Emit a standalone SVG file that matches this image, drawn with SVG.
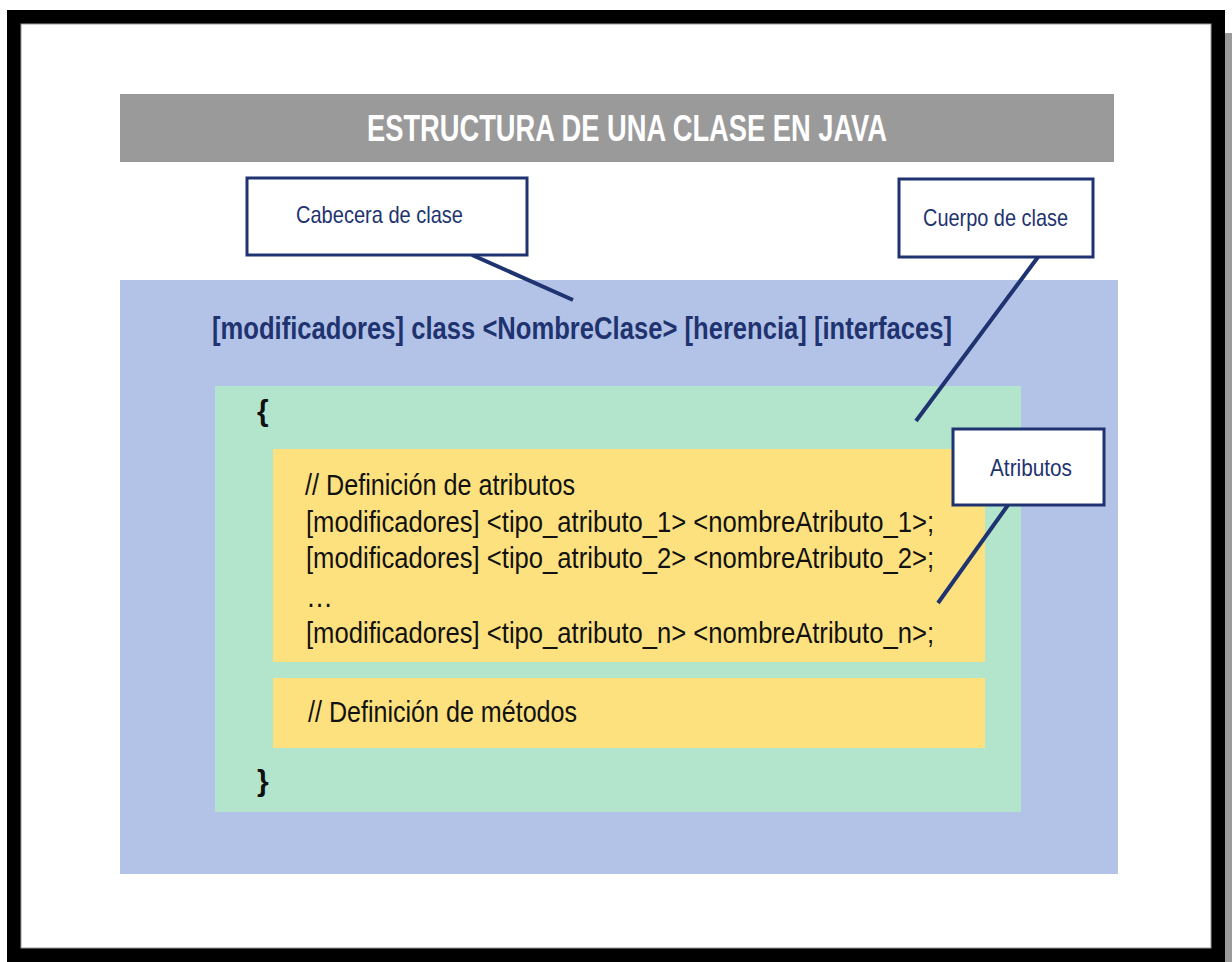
<svg xmlns="http://www.w3.org/2000/svg" width="1232" height="962" viewBox="0 0 1232 962">
<style>
.callout{fill:#ffffff;stroke:#1f3370;stroke-width:3}
.ctext{font-family:"Liberation Sans Narrow","Liberation Sans",Arial,sans-serif;font-size:24px;fill:#1f3370}
.code{font-family:"Liberation Sans Narrow","Liberation Sans",Arial,sans-serif;font-size:30px;fill:#111111}
.conn{stroke:#1f3370;stroke-width:4;fill:none;stroke-linecap:butt}
</style>
<rect x="0" y="0" width="1232" height="962" fill="#ffffff"/>
<rect x="1225" y="33" width="7" height="929" fill="#9a9a9a"/>
<g id="frame">
<rect x="7" y="10" width="1218" height="952" fill="#000000"/>
<rect x="21" y="24" width="1190" height="924" fill="#ffffff" stroke="#9a9a9a" stroke-width="1"/>
</g>
<g id="title">
<rect x="120" y="94" width="994" height="68" fill="#9b9a9b"/>
<text x="367" y="141" font-family="'Liberation Sans Narrow','Liberation Sans',Arial,sans-serif" font-size="36" font-weight="bold" fill="#ffffff" textLength="520" lengthAdjust="spacingAndGlyphs">ESTRUCTURA DE UNA CLASE EN JAVA</text>
</g>
<g id="class-area">
<rect x="120" y="280" width="998" height="594" fill="#b3c3e7"/>
<text x="212" y="339" font-family="'Liberation Sans Narrow','Liberation Sans',Arial,sans-serif" font-size="32" font-weight="bold" fill="#1f3370" textLength="740" lengthAdjust="spacingAndGlyphs">[modificadores] class &lt;NombreClase&gt; [herencia] [interfaces]</text>
</g>
<g id="body-area">
<rect x="215" y="386" width="806" height="426" fill="#b3e5cc"/>
<text x="257" y="421" font-family="'Liberation Sans Narrow','Liberation Sans',Arial,sans-serif" font-size="30" font-weight="bold" fill="#111111">{</text>
<text x="257" y="791" font-family="'Liberation Sans Narrow','Liberation Sans',Arial,sans-serif" font-size="30" font-weight="bold" fill="#111111">}</text>
</g>
<g id="attributes-block">
<rect x="273" y="449" width="712" height="213" fill="#fde17e"/>
<text class="code" x="305" y="495" textLength="270" lengthAdjust="spacingAndGlyphs">// Definición de atributos</text>
<text class="code" x="306" y="532" textLength="628" lengthAdjust="spacingAndGlyphs">[modificadores] &lt;tipo_atributo_1&gt; &lt;nombreAtributo_1&gt;;</text>
<text class="code" x="306" y="568" textLength="628" lengthAdjust="spacingAndGlyphs">[modificadores] &lt;tipo_atributo_2&gt; &lt;nombreAtributo_2&gt;;</text>
<text class="code" x="306" y="607" textLength="27" lengthAdjust="spacingAndGlyphs">…</text>
<text class="code" x="306" y="643" textLength="628" lengthAdjust="spacingAndGlyphs">[modificadores] &lt;tipo_atributo_n&gt; &lt;nombreAtributo_n&gt;;</text>
</g>
<g id="methods-block">
<rect x="273" y="678" width="712" height="70" fill="#fde17e"/>
<text class="code" x="308" y="722" textLength="269" lengthAdjust="spacingAndGlyphs">// Definición de métodos</text>
</g>
<g id="connectors">
<line class="conn" x1="472" y1="255" x2="573" y2="300"/>
<line class="conn" x1="1038" y1="257" x2="916" y2="421"/>
<line class="conn" x1="1008" y1="505" x2="938" y2="603"/>
</g>
<g id="callout-cabecera">
<rect class="callout" x="247" y="178" width="280" height="77"/>
<text class="ctext" x="296" y="223" textLength="167" lengthAdjust="spacingAndGlyphs">Cabecera de clase</text>
</g>
<g id="callout-cuerpo">
<rect class="callout" x="899" y="179" width="194" height="78"/>
<text class="ctext" x="923" y="226" textLength="145" lengthAdjust="spacingAndGlyphs">Cuerpo de clase</text>
</g>
<g id="callout-atributos">
<rect class="callout" x="953" y="429" width="151" height="76"/>
<text class="ctext" x="990" y="476" textLength="82" lengthAdjust="spacingAndGlyphs">Atributos</text>
</g>
</svg>
